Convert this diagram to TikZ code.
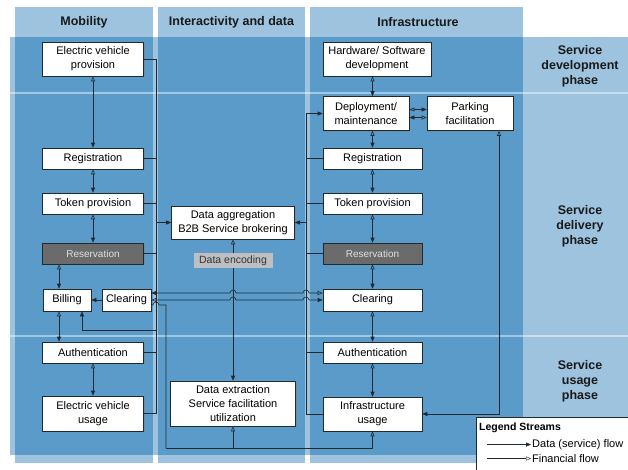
\documentclass[tikz,border=0pt]{standalone}
\usepackage{fontspec}
\setmainfont{Liberation Sans}
\usetikzlibrary{arrows.meta,calc,shadows}
\usepackage{xcolor}
\definecolor{cband}{HTML}{9DC3DF}
\definecolor{ccell}{HTML}{5A9BC9}
\definecolor{cres}{HTML}{6B6B6B}
\definecolor{cenc}{HTML}{BDBFC2}
\definecolor{cline}{HTML}{1F2A33}

\begin{document}
\begin{tikzpicture}[x=1pt,y=-1pt,
  blk/.style={draw=cline, fill=white, line width=0.6pt, inner sep=0pt, align=center,
    font=\fontsize{11}{14}\selectfont, minimum width=100pt, minimum height=21pt,
    drop shadow={shadow xshift=1pt,shadow yshift=-1pt,opacity=0.45}},
  resblk/.style={blk, fill=cres, text=black!12, font=\fontsize{10}{12}\selectfont},
  hdr/.style={font=\bfseries\fontsize{12.5}{15}\selectfont, text=black!90},
  phase/.style={hdr, align=center},
  wire/.style={draw=cline, line width=0.6pt},
  dflow/.style={wire, -{Triangle[length=5pt,width=4pt]}},
  fflow/.style={wire, -{Triangle[open,length=5pt,width=4pt]}},
  dual/.style={wire, {Triangle[open,length=5pt,width=4pt]}-{Triangle[length=5pt,width=4pt]}}]
  \useasboundingbox (0,0) rectangle (628,469);

  % swimlanes
  \fill[cband] (10,37) rectangle (628,455);
  \foreach \xa/\xb in {15/153,158/305,310/523}{
    \fill[cband] (\xa,7) rectangle (\xb,463);
    \fill[ccell] (\xa,37) rectangle (\xb,455);
  }
  \foreach \yy in {93,336} \draw[white, opacity=0.45, line width=1.5pt] (10,\yy) -- (628,\yy);

  \node[hdr] (hmob) at (84,22) {Mobility};
  \node[hdr] (hint) at (231.5,22) {Interactivity and data};
  \node[hdr] (hinf) at (418,22) {Infrastructure};
  \node[phase] (pdev) at (580,66) {Service\\development\\phase};
  \node[phase] (pdel) at (580,226) {Service\\delivery\\phase};
  \node[phase] (puse) at (580,381) {Service\\usage\\phase};

  % mobility
  \node[blk, minimum width=101pt, minimum height=34pt] (evprov) at (93,59) {Electric vehicle\\provision};
  \node[blk, minimum width=101pt] (mreg) at (93,158.5) {Registration};
  \node[blk, minimum width=101pt] (mtok) at (93,203.5) {Token provision};
  \node[resblk, minimum width=101pt] (mres) at (93,253.5) {Reservation};
  \node[blk, minimum width=48pt, minimum height=22pt] (bill) at (67,300) {Billing};
  \node[blk, minimum width=49pt, minimum height=22pt] (mclear) at (126.5,300) {Clearing};
  \node[blk, minimum width=101pt] (mauth) at (93,352.5) {Authentication};
  \node[blk, minimum width=101pt, minimum height=35pt] (evuse) at (93,413.5) {Electric vehicle\\usage};

  % interactivity and data
  \node[blk, minimum width=123pt, minimum height=33pt] (agg) at (233,222.5) {Data aggregation\\B2B Service brokering};
  \node[blk, minimum width=125pt, minimum height=45pt] (extr) at (233,403.5) {Data extraction\\Service facilitation\\utilization};

  % infrastructure
  \node[blk, minimum width=108pt, minimum height=34pt] (hwsw) at (377,59) {Hardware/ Software\\development};
  \node[blk, minimum width=86pt, minimum height=34pt] (deploy) at (366,113.5) {Deployment/\\maintenance};
  \node[blk, minimum width=86pt, minimum height=34pt] (park) at (470,113.5) {Parking\\facilitation};
  \node[blk, minimum width=99pt] (ireg) at (372.5,158.5) {Registration};
  \node[blk, minimum width=99pt] (itok) at (372.5,203.5) {Token provision};
  \node[resblk, minimum width=99pt] (ires) at (372.5,253.5) {Reservation};
  \node[blk, minimum width=99pt, minimum height=22pt] (iclear) at (372.5,300) {Clearing};
  \node[blk, minimum width=99pt] (iauth) at (372.5,352.5) {Authentication};
  \node[blk, minimum width=99pt, minimum height=34pt] (iuse) at (372.5,414) {Infrastructure\\usage};

  \coordinate (mbus) at (156,59);
  \coordinate (ibus) at (306,0);
  \coordinate (bx) at (59,0);
  \coordinate (ix) at (372.5,0);
  \coordinate (fbus) at (166,448);
  \coordinate (bfeed) at (156,330);

  % vertical chains
  \foreach \a/\b in {evprov/mreg,mreg/mtok,mtok/mres,mauth/evuse,ireg/itok,itok/ires,ires/iclear,iclear/iauth,iauth/iuse}
    \draw[dual] (\a) -- (\b);
  \draw[dual] (bx |- mres.south) -- (bx |- bill.north);
  \draw[dual] (bx |- bill.south) -- (bx |- mauth.north);
  \draw[dual] (ix |- hwsw.south) -- (ix |- deploy.north);
  \draw[dual] (ix |- deploy.south) -- (ireg);
  \draw[dflow] (mclear) -- (bill);

  % buses
  \draw[wire] (mbus) -- (mbus |- evuse.east);
  \foreach \n in {evprov,mreg,mtok,mres,mauth,evuse} \draw[wire] (\n.east) -- (mbus |- \n.east);
  \draw[dflow] (mbus |- agg.west) -- (agg.west);
  \draw[dflow] (bfeed) -| ($(bill.south)+(15,0)$);
  \draw[dflow] (ibus |- iuse.west) -- (ibus |- deploy.west) -- (deploy.west);
  \foreach \n in {ireg,itok,ires,iauth,iuse} \draw[wire] (\n.west) -- (ibus |- \n.west);
  \draw[dflow] (ibus |- agg.east) -- (agg.east);

  \draw[dual] ($(deploy.east)+(0,-4)$) -- ($(park.west)+(0,-4)$);
  \draw[dual] ($(park.west)+(0,4)$) -- ($(deploy.east)+(0,4)$);
  \draw[dual] ($(park.south)+(29,0)$) |- (iuse.east);
  \draw[dual] (agg) -- (extr);

  % clearing streams
  \coordinate (ca) at ($(mclear.east)+(0,-7)$);
  \coordinate (cc) at ($(mclear.east)+(0,5)$);
  \draw[dual] ($(iclear.west)+(0,-7)$) -- ($(ibus |- ca)+(3,0)$) arc[start angle=0,end angle=180,radius=3pt]
    -- ($(agg.south |- ca)+(3,0)$) arc[start angle=0,end angle=180,radius=3pt] -- (ca);
  \draw[dual] (mclear.east) -- ($(agg.south |- mclear.east)+(-3,0)$) arc[start angle=180,end angle=0,radius=3pt]
    -- ($(ibus |- mclear.east)+(-3,0)$) arc[start angle=180,end angle=0,radius=3pt] -- (iclear.west);
  \draw[wire] (cc) -- ($(mbus |- cc)+(-3,0)$) arc[start angle=180,end angle=0,radius=3pt] -- (fbus |- cc) -- (fbus);
  \draw[fflow] (fbus) -| (iuse.south);
  \draw[fflow] (extr.south |- fbus) -- (extr.south);

  \node[fill=cenc, inner sep=0pt, minimum width=79pt, minimum height=15pt,
        font=\fontsize{10.5}{12}\selectfont, text=black!80] (enc) at (233,260.5) {Data encoding};

  % legend
  \node[draw=cline, fill=white, line width=0.5pt, minimum width=156pt, minimum height=54pt,
        anchor=north west, inner sep=0pt] (lgd) at (476,417) {};
  \node[font=\bfseries\fontsize{10.5}{12}\selectfont, anchor=west, inner sep=1pt] (lgdt) at (478,428) {Legend Streams};
  \coordinate (ld) at (487,444.5);
  \coordinate (lf) at (487,458.5);
  \node[anchor=west, font=\fontsize{11}{13}\selectfont, inner sep=1pt] (ldt) at (531,444.5) {Data (service) flow};
  \node[anchor=west, font=\fontsize{11}{13}\selectfont, inner sep=1pt] (lft) at (531,458.5) {Financial flow};
  \draw[dflow, line width=0.4pt] (ld) -- (ldt.west);
  \draw[fflow, line width=0.4pt] (lf) -- (lft.west);
\end{tikzpicture}
\end{document}
